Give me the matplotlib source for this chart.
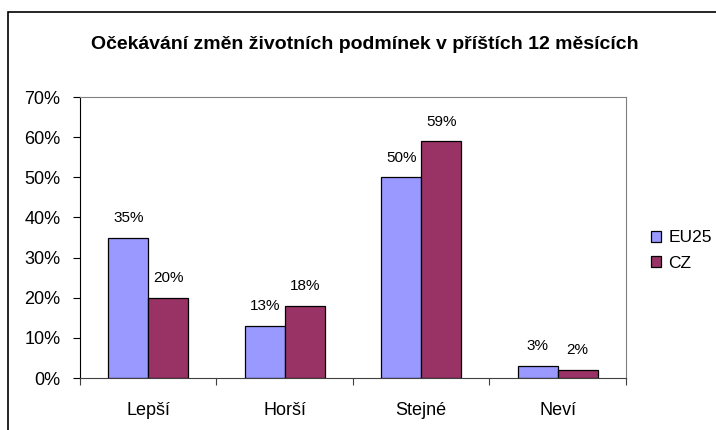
import matplotlib.pyplot as plt
import numpy as np
from matplotlib.patches import Rectangle

# data
categories = ['Lepší', 'Horší', 'Stejné', 'Neví']
eu25 = [35, 13, 50, 3]
cz = [20, 18, 59, 2]
series_names = ['EU25', 'CZ']
title = 'Očekávání změn životních podmínek v příštích 12 měsících'

plt.rcParams['font.family'] = ['Liberation Sans', 'DejaVu Sans']

fig = plt.figure(figsize=(7.16, 4.30), dpi=100)
ax = fig.add_axes([0.1117, 0.1209, 0.7626, 0.6535])

x = np.arange(len(categories))
w = 0.293
b1 = ax.bar(x - w / 2, eu25, w, color='#9999FF', edgecolor='black', linewidth=0.9, label=series_names[0])
b2 = ax.bar(x + w / 2, cz, w, color='#993366', edgecolor='black', linewidth=0.9, label=series_names[1])

for bars, vals in ((b1, eu25), (b2, cz)):
    for r, v in zip(bars, vals):
        ax.annotate(f'{v}%', (r.get_x() + r.get_width() / 2, v), xytext=(0, 9),
                    textcoords='offset points', ha='center', va='bottom', fontsize=11)

ax.set_xlim(-0.5, len(categories) - 0.5)
ax.set_ylim(0, 70)
ax.set_yticks(range(0, 71, 10))
ax.set_yticklabels([f'{t}%' for t in range(0, 71, 10)], fontsize=13)
ax.set_xticks(np.arange(-0.5, len(categories), 1))
ax.set_xticklabels([])
ax.set_xticks(x, minor=True)
ax.set_xticklabels(categories, minor=True, fontsize=13)
ax.tick_params(axis='x', which='major', length=5, color='#404040', direction='out')
ax.tick_params(axis='x', which='minor', length=0, pad=17)
ax.tick_params(axis='y', length=5, color='black', pad=9)
for side in ('top', 'right'):
    ax.spines[side].set_color('#808080')
ax.spines['left'].set_color('black')
ax.spines['bottom'].set_color('#404040')

fig.text(0.51, 0.897, title, ha='center', va='center', fontsize=14, fontweight='bold')

ax.legend(loc='center left', bbox_to_anchor=(1.03, 0.454), frameon=False, fontsize=12.5,
          handlelength=0.6, handleheight=0.6, handletextpad=0.4, labelspacing=0.6,
          borderpad=0)

# outer chart border
fig.patches.append(Rectangle((0.0105, -0.05), 1.1, 1.022, transform=fig.transFigure,
                             fill=False, edgecolor='black', linewidth=1.2, clip_on=False))

fig.savefig('out.png', dpi=100)
